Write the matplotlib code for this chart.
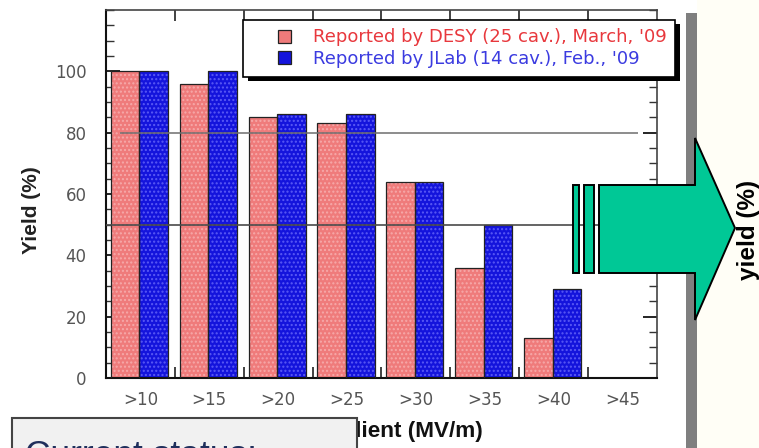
import matplotlib

matplotlib.use("Agg")
import matplotlib.pyplot as plt
import numpy as np
from matplotlib.legend_handler import HandlerPatch
from matplotlib.patches import Patch, Polygon, Rectangle
from matplotlib.ticker import FixedLocator, MultipleLocator

# yield per gradient threshold, two labs
categories = [">10", ">15", ">20", ">25", ">30", ">35", ">40", ">45"]
desy_yield = [100, 96, 85, 83, 64, 36, 13, 0]
jlab_yield = [100, 100, 86, 86, 64, 50, 29, 0]
desy_label = "Reported by DESY (25 cav.), March, '09"
jlab_label = "Reported by JLab (14 cav.), Feb., '09"
ref_levels = [80, 50]
y_ticks = [0, 20, 40, 60, 80, 100]

W, H = 759, 448
RED, RED_DOT = "#ef7b7b", "#f6a9a9"
BLUE, BLUE_DOT = "#1414dc", "#5a5af5"
GREEN = "#00c896"


def fx(x):
    return x / W


def fy(y):
    return 1 - y / H


fig = plt.figure(figsize=(W / 100, H / 100), dpi=100)
ax = fig.add_axes([fx(106), fy(378), 551 / W, 368 / H])

x = np.arange(len(categories))
bw = 0.415
# filled + dotted layer, then a plain black outline on top
ax.bar(x + 0.07, desy_yield, bw, align="edge", color=RED, edgecolor=RED_DOT,
       linewidth=0, hatch="....", zorder=2)
ax.bar(x + 0.07 + bw, jlab_yield, bw, align="edge", color=BLUE, edgecolor=BLUE_DOT,
       linewidth=0, hatch="....", zorder=2)
ax.bar(x + 0.07, desy_yield, bw, align="edge", fill=False, edgecolor="#222",
       linewidth=0.9, zorder=3)
ax.bar(x + 0.07 + bw, jlab_yield, bw, align="edge", fill=False, edgecolor="#222",
       linewidth=0.9, zorder=3)

ax.hlines(ref_levels[0], 0.2, 7.72, color="#6e6e6e", lw=1.1, zorder=4)
ax.hlines(ref_levels[1], 0, 8, color="#4a4a4a", lw=1.2, zorder=4)

ax.set_xlim(0, len(categories))
ax.set_ylim(0, 120)
ax.set_xticks(x + 0.5)
ax.set_xticklabels(categories)
ax.xaxis.set_minor_locator(FixedLocator(np.arange(1, len(categories))))
ax.yaxis.set_major_locator(FixedLocator(y_ticks))
ax.yaxis.set_minor_locator(MultipleLocator(5))
ax.tick_params(axis="x", which="major", length=0, pad=9, labelsize=12,
               labelcolor="#555")
ax.tick_params(axis="x", which="minor", direction="in", length=8, width=1.3,
               top=True, bottom=True, color="#333")
ax.tick_params(axis="y", which="major", direction="in", length=10, width=1.2,
               left=True, right=True, pad=14, labelsize=12, labelcolor="#555")
ax.tick_params(axis="y", which="minor", direction="in", length=6, width=1.0,
               left=True, right=True, color="#333")
for name, sp in ax.spines.items():
    sp.set_linewidth(1.5 if name in ("left", "bottom") else 1.2)
    sp.set_color("#111" if name in ("left", "bottom") else "#444")
for t in ax.get_xticklabels() + ax.get_yticklabels():
    t.set_fontfamily("DejaVu Sans")

ax.set_ylabel("Yield (%)", fontsize=15, fontweight="bold",
              fontfamily="Liberation Sans", color="#222")
ax.yaxis.set_label_coords(-0.118, 0.455)


def square_handle(legend, orig_handle, xdescent, ydescent, width, height, fontsize):
    side = height * 1.05
    return Rectangle((-xdescent + width - side, -ydescent), side, height)


handles = [Patch(facecolor=RED, edgecolor="#222", lw=0.9),
           Patch(facecolor=BLUE, edgecolor="#222", lw=0.9)]
leg = ax.legend(handles, [desy_label, jlab_label], loc="upper left",
                bbox_to_anchor=(fx(243), fy(20)), bbox_transform=fig.transFigure,
                borderaxespad=0, fancybox=False, framealpha=1, edgecolor="black",
                prop={"family": "DejaVu Sans", "size": 13.0},
                borderpad=0.47, handlelength=2.2, handleheight=0.72,
                handletextpad=1.2, labelspacing=0.2,
                handler_map={Patch: HandlerPatch(patch_func=square_handle)})
leg.get_frame().set_linewidth(1.2)
leg.set_zorder(6)
for txt, col in zip(leg.get_texts(), ["#e8383d", "#3b3be0"]):
    txt.set_color(col)

# drop shadow under the legend box
fig.canvas.draw()
bb = leg.get_window_extent()
ax.add_patch(Rectangle((fx(bb.x0 + 5), (bb.y0 - 4) / H), bb.width / W, bb.height / H,
                       transform=fig.transFigure, facecolor="black",
                       edgecolor="none", clip_on=False, zorder=5.5))

# right-hand side of the slide
fig.add_artist(Rectangle((fx(697), 0), fx(W - 697), 1, transform=fig.transFigure,
                         facecolor="#fffef6", edgecolor="none", zorder=1))
fig.add_artist(Rectangle((fx(686), 0), fx(11), fy(13), transform=fig.transFigure,
                         facecolor="#7f7f7f", edgecolor="none", zorder=1.5))
fig.text(fx(748), fy(230), "yield (%)", rotation=90, ha="center", va="center",
         fontsize=17.5, fontweight="bold", fontfamily="Liberation Sans", zorder=2)

arrow_pts = [(599, 185), (695, 185), (695, 138), (735, 228), (695, 320),
             (695, 273), (599, 273)]
fig.add_artist(Polygon([(fx(a), fy(b)) for a, b in arrow_pts], closed=True,
                       transform=fig.transFigure, facecolor=GREEN,
                       edgecolor="black", lw=1.4, zorder=3))
for x0, x1 in [(573, 579), (584, 594)]:
    fig.add_artist(Rectangle((fx(x0), fy(273)), fx(x1 - x0), 88 / H,
                             transform=fig.transFigure, facecolor=GREEN,
                             edgecolor="black", lw=1.4, zorder=3))

# x label, partly hidden by the status box
fig.text(fx(483), fy(431), "Gradient (MV/m)", ha="right", va="center",
         fontsize=16.2, fontweight="bold", fontfamily="Liberation Sans",
         color="#111", zorder=3)
fig.add_artist(Rectangle((fx(12), fy(470)), fx(345), 52 / H,
                         transform=fig.transFigure, facecolor="#f1f1f1",
                         edgecolor="#444", lw=1.5, zorder=4))
fig.text(fx(25), fy(465), "Current status:", ha="left", va="baseline",
         fontsize=25.5, fontfamily="Liberation Sans", color="#1f2f5c", zorder=5)

fig.savefig("out.png", dpi=100)
